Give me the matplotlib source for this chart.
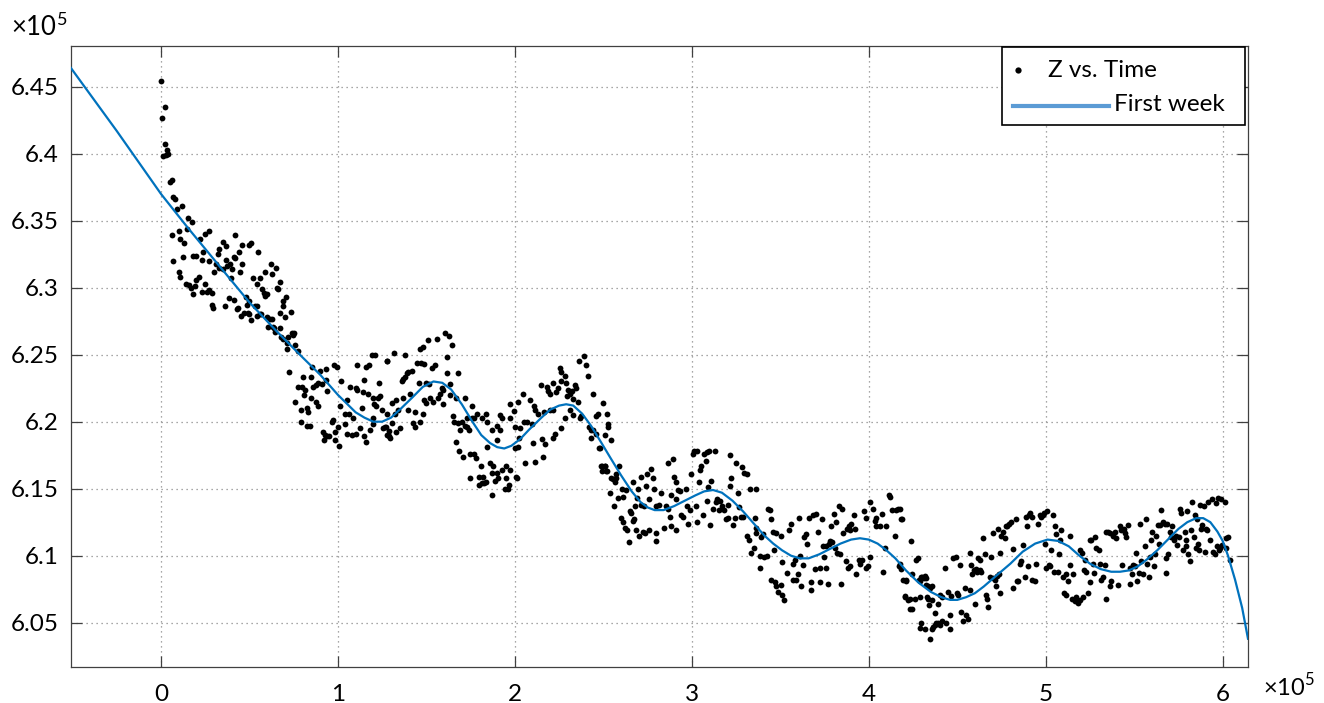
import numpy as np
import matplotlib
matplotlib.use('Agg')
import matplotlib.pyplot as plt
from matplotlib.patches import Rectangle
from matplotlib.lines import Line2D

# time in units of 1e5 s, Z in units of 1e5
# scatter, split in chunks along time
z_start = [(0.00, 6.454), (0.02, 6.435), (0.005, 6.427), (0.02, 6.407), (0.035, 6.403), (0.01, 6.398),
           (0.03, 6.399), (0.04, 6.400), (0.05, 6.379), (0.06, 6.380), (0.07, 6.368), (0.08, 6.366),
           (0.09, 6.359), (0.12, 6.361), (0.15, 6.352), (0.175, 6.349), (0.145, 6.344), (0.06, 6.339),
           (0.10, 6.342), (0.11, 6.336), (0.13, 6.333), (0.22, 6.336), (0.25, 6.340), (0.27, 6.342),
           (0.07, 6.320), (0.125, 6.323), (0.18, 6.324), (0.20, 6.324), (0.24, 6.327), (0.23, 6.321),
           (0.27, 6.320), (0.10, 6.312), (0.11, 6.308), (0.14, 6.303), (0.16, 6.302), (0.17, 6.300),
           (0.18, 6.295), (0.19, 6.301), (0.20, 6.306), (0.215, 6.308), (0.23, 6.297), (0.25, 6.303),
           (0.26, 6.297), (0.27, 6.298), (0.29, 6.296), (0.29, 6.287), (0.295, 6.285), (0.30, 6.312),
           (0.31, 6.318), (0.32, 6.325), (0.33, 6.329), (0.35, 6.334), (0.37, 6.331), (0.33, 6.315),
           (0.35, 6.314), (0.36, 6.286), (0.37, 6.321), (0.39, 6.318), (0.375, 6.316), (0.40, 6.314),
           (0.395, 6.307), (0.385, 6.292), (0.41, 6.291), (0.41, 6.323), (0.42, 6.322), (0.42, 6.339),
           (0.44, 6.327), (0.46, 6.332), (0.445, 6.312), (0.46, 6.318), (0.43, 6.284), (0.435, 6.285),
           (0.455, 6.279), (0.47, 6.281), (0.48, 6.293), (0.50, 6.290), (0.485, 6.287), (0.49, 6.281),
           (0.50, 6.280), (0.51, 6.276), (0.50, 6.332), (0.51, 6.333), (0.52, 6.307), (0.56, 6.307),
           (0.54, 6.286), (0.545, 6.279), (0.56, 6.280), (0.55, 6.327), (0.54, 6.303), (0.57, 6.299),
           (0.58, 6.296), (0.59, 6.294), (0.60, 6.295), (0.59, 6.312), (0.60, 6.278), (0.605, 6.271),
           (0.63, 6.277), (0.62, 6.318), (0.63, 6.310), (0.64, 6.270), (0.65, 6.315), (0.655, 6.300),
           (0.66, 6.299), (0.67, 6.304), (0.67, 6.270), (0.69, 6.290), (0.705, 6.293), (0.69, 6.286),
           (0.70, 6.278), (0.67, 6.281), (0.71, 6.254), (0.72, 6.263), (0.745, 6.265), (0.75, 6.266),
           (0.735, 6.282), (0.76, 6.257), (0.775, 6.253), (0.69, 6.262), (0.565, 6.280), (0.53, 6.286),
           (0.615, 6.277), (0.635, 6.271), (0.645, 6.267), (0.68, 6.263), (0.71, 6.259), (0.74, 6.266),
           (0.725, 6.237)]

z_day1 = [(0.855, 6.241), (0.90, 6.238), (0.93, 6.239), (0.98, 6.242), (0.995, 6.241), (0.80, 6.233),
          (0.775, 6.226), (0.795, 6.226), (0.815, 6.224), (0.76, 6.215), (0.81, 6.220), (0.85, 6.218),
          (0.875, 6.215), (0.89, 6.212), (0.86, 6.226), (0.875, 6.227), (0.89, 6.229), (0.91, 6.228),
          (0.93, 6.231), (0.94, 6.223), (0.79, 6.209), (0.825, 6.210), (0.83, 6.207), (0.79, 6.200),
          (0.825, 6.197), (0.84, 6.197), (0.85, 6.233), (0.915, 6.192), (0.925, 6.190), (0.94, 6.189),
          (0.95, 6.189), (0.92, 6.186), (0.965, 6.200), (0.97, 6.201), (0.985, 6.192), (1.0, 6.196),
          (0.985, 6.186), (1.005, 6.182), (1.01, 6.212), (1.02, 6.230), (1.05, 6.216), (1.07, 6.226),
          (1.10, 6.225), (1.11, 6.224), (1.04, 6.206), (1.06, 6.206), (1.085, 6.203), (1.04, 6.198),
          (1.05, 6.191), (1.08, 6.190), (1.10, 6.191), (1.125, 6.195), (1.15, 6.189), (1.16, 6.185),
          (1.11, 6.242), (1.16, 6.241), (1.175, 6.242), (1.15, 6.231), (1.14, 6.222), (1.17, 6.221),
          (1.20, 6.218), (1.23, 6.229), (1.225, 6.218), (1.235, 6.219), (1.135, 6.210), (1.205, 6.213),
          (1.215, 6.212), (1.18, 6.194), (1.20, 6.198), (1.255, 6.195), (1.27, 6.196), (1.29, 6.193),
          (1.305, 6.199), (1.33, 6.192), (1.275, 6.190), (1.29, 6.189), (1.19, 6.250), (1.21, 6.250),
          (1.275, 6.245), (1.315, 6.251), (1.25, 6.209), (1.275, 6.206), (1.305, 6.214), (1.33, 6.216),
          (1.32, 6.206), (1.20, 6.203), (1.28, 6.245), (1.34, 6.209), (1.35, 6.195), (1.295, 6.188),
          (1.265, 6.196)]

z_day2 = [(1.605, 6.266), (1.63, 6.264), (1.645, 6.257), (1.56, 6.262), (1.51, 6.261), (1.48, 6.256),
          (1.465, 6.254), (1.38, 6.250), (1.445, 6.244), (1.47, 6.244), (1.485, 6.243), (1.55, 6.242),
          (1.53, 6.240), (1.615, 6.248), (1.395, 6.237), (1.42, 6.238), (1.39, 6.236), (1.37, 6.232),
          (1.36, 6.230), (1.38, 6.233), (1.46, 6.229), (1.50, 6.229), (1.515, 6.228), (1.615, 6.236),
          (1.68, 6.236), (1.635, 6.228), (1.59, 6.225), (1.595, 6.224), (1.575, 6.221), (1.37, 6.218),
          (1.41, 6.221), (1.52, 6.218), (1.54, 6.215), (1.565, 6.218), (1.485, 6.216), (1.50, 6.214),
          (1.595, 6.213), (1.635, 6.220), (1.67, 6.218), (1.72, 6.218), (1.395, 6.209), (1.435, 6.207),
          (1.48, 6.206), (1.425, 6.199), (1.435, 6.196), (1.465, 6.200), (1.65, 6.204), (1.655, 6.200),
          (1.68, 6.199), (1.70, 6.200), (1.73, 6.203), (1.72, 6.197), (1.69, 6.194), (1.76, 6.203),
          (1.73, 6.196), (1.74, 6.194), (1.77, 6.203), (1.785, 6.206), (1.76, 6.212), (1.665, 6.185),
          (1.685, 6.178), (1.705, 6.174), (1.745, 6.176), (1.77, 6.176), (1.78, 6.173), (1.81, 6.167),
          (1.745, 6.158), (1.795, 6.159), (1.82, 6.159), (1.815, 6.154), (1.795, 6.153), (1.825, 6.154),
          (1.835, 6.155), (1.86, 6.169), (1.875, 6.167), (1.87, 6.162), (1.885, 6.156), (1.905, 6.158),
          (1.90, 6.162), (1.87, 6.145), (1.815, 6.203), (1.835, 6.206), (1.84, 6.200), (1.84, 6.181),
          (1.87, 6.194), (1.90, 6.186), (1.915, 6.205), (1.925, 6.203), (1.90, 6.197), (1.915, 6.194),
          (1.93, 6.164), (1.95, 6.158), (1.945, 6.150), (1.96, 6.150), (1.965, 6.153), (1.95, 6.167),
          (1.97, 6.164), (1.97, 6.203), (1.975, 6.213), (1.995, 6.208), (2.0, 6.196), (2.02, 6.215),
          (2.045, 6.221), (2.0, 6.180), (2.02, 6.181), (2.025, 6.188), (2.03, 6.195), (2.05, 6.200),
          (2.07, 6.200), (2.009, 6.159), (2.013, 6.158), (2.056, 6.169), (2.088, 6.216), (2.107, 6.212),
          (2.113, 6.209), (2.132, 6.206), (2.094, 6.198), (2.103, 6.184), (2.113, 6.170), (2.160, 6.174),
          (2.156, 6.187), (2.169, 6.183), (2.150, 6.227), (2.179, 6.226), (2.188, 6.223), (2.198, 6.221),
          (2.213, 6.229), (2.231, 6.222), (2.254, 6.240), (2.263, 6.237), (2.263, 6.230), (2.245, 6.225),
          (2.282, 6.234), (2.288, 6.229), (2.301, 6.224), (2.310, 6.221), (2.295, 6.219), (2.320, 6.223),
          (2.329, 6.217), (2.339, 6.227), (2.348, 6.225), (2.363, 6.245), (2.390, 6.249), (2.401, 6.242),
          (2.414, 6.234), (2.358, 6.215), (2.376, 6.204), (2.310, 6.209), (2.282, 6.203), (2.263, 6.195),
          (2.226, 6.191), (2.213, 6.188), (2.198, 6.209), (2.164, 6.207), (2.213, 6.209), (2.329, 6.205),
          (2.367, 6.203), (2.442, 6.221), (2.457, 6.204), (2.471, 6.206), (2.420, 6.196), (2.433, 6.194),
          (2.442, 6.194), (2.461, 6.191), (2.476, 6.180), (2.495, 6.167), (2.508, 6.167), (2.518, 6.163),
          (2.527, 6.196), (2.433, 6.188)]

z_day3 = [(2.499, 6.214), (2.521, 6.206), (2.527, 6.198), (2.508, 6.190), (2.546, 6.186), (2.480, 6.180),
          (2.489, 6.167), (2.508, 6.167), (2.495, 6.163), (2.514, 6.163), (2.589, 6.167), (2.574, 6.161),
          (2.546, 6.158), (2.555, 6.157), (2.565, 6.155), (2.570, 6.158), (2.536, 6.147), (2.584, 6.143),
          (2.559, 6.137), (2.608, 6.150), (2.627, 6.149), (2.612, 6.144), (2.597, 6.128), (2.612, 6.125),
          (2.621, 6.121), (2.631, 6.119), (2.646, 6.110), (2.650, 6.133), (2.659, 6.132), (2.672, 6.127),
          (2.665, 6.126), (2.665, 6.155), (2.678, 6.137), (2.691, 6.143), (2.683, 6.119), (2.702, 6.115),
          (2.725, 6.118), (2.734, 6.117), (2.759, 6.119), (2.796, 6.117), (2.796, 6.111), (2.697, 6.150),
          (2.710, 6.159), (2.715, 6.138), (2.729, 6.137), (2.740, 6.152), (2.747, 6.161), (2.772, 6.165),
          (2.778, 6.158), (2.759, 6.142), (2.785, 6.150), (2.800, 6.137), (2.815, 6.138), (2.823, 6.147),
          (2.842, 6.121), (2.853, 6.137), (2.866, 6.169), (2.866, 6.135), (2.875, 6.129), (2.891, 6.172),
          (2.885, 6.145), (2.898, 6.159), (2.909, 6.155), (2.923, 6.149), (2.913, 6.142), (2.885, 6.122),
          (2.909, 6.119), (2.932, 6.148), (2.941, 6.130), (2.951, 6.129), (2.966, 6.150), (2.973, 6.137),
          (2.979, 6.124), (2.992, 6.134), (2.998, 6.161), (3.004, 6.176), (3.011, 6.178), (3.030, 6.178),
          (3.045, 6.164), (3.054, 6.167), (3.068, 6.176), (3.079, 6.171), (3.083, 6.177), (3.096, 6.178),
          (3.130, 6.178), (3.041, 6.155), (3.026, 6.137), (3.030, 6.125), (3.064, 6.130), (3.086, 6.141),
          (3.092, 6.151), (3.101, 6.123), (3.111, 6.156), (3.120, 6.135), (3.135, 6.140), (3.143, 6.142),
          (3.154, 6.134), (3.162, 6.141), (3.173, 6.137), (3.181, 6.134), (3.192, 6.127), (3.205, 6.128),
          (3.205, 6.138), (3.214, 6.175), (3.224, 6.158), (3.218, 6.152), (3.233, 6.123), (3.243, 6.128),
          (3.248, 6.169), (3.262, 6.147), (3.267, 6.136), (3.280, 6.129), (3.290, 6.129), (3.286, 6.166),
          (3.294, 6.162), (3.309, 6.161), (3.309, 6.115), (3.324, 6.112), (3.331, 6.150), (3.337, 6.102),
          (3.350, 6.106), (3.365, 6.150), (3.356, 6.128), (3.361, 6.121), (3.365, 6.117), (3.384, 6.100),
          (3.384, 6.091), (3.393, 6.114), (3.403, 6.116), (3.407, 6.099), (3.422, 6.100), (3.431, 6.135),
          (3.444, 6.134), (3.450, 6.127), (3.459, 6.118), (3.463, 6.104), (3.474, 6.117), (3.450, 6.082),
          (3.469, 6.080), (3.478, 6.077), (3.488, 6.073), (3.506, 6.078), (3.512, 6.071), (3.506, 6.115),
          (3.512, 6.095), (3.521, 6.067), (3.538, 6.087)]

z_day4 = [(3.550, 6.119), (3.563, 6.124), (3.572, 6.094), (3.582, 6.097), (3.572, 6.082), (3.591, 6.082),
          (3.600, 6.086), (3.606, 6.128), (3.610, 6.100), (3.619, 6.077), (3.629, 6.093), (3.633, 6.114),
          (3.644, 6.116), (3.651, 6.109), (3.663, 6.128), (3.672, 6.074), (3.676, 6.080), (3.685, 6.130),
          (3.700, 6.131), (3.695, 6.090), (3.714, 6.118), (3.723, 6.080), (3.727, 6.091), (3.738, 6.127),
          (3.742, 6.107), (3.746, 6.099), (3.757, 6.091), (3.761, 6.107), (3.770, 6.079), (3.776, 6.109),
          (3.779, 6.111), (3.789, 6.122), (3.794, 6.110), (3.802, 6.131), (3.808, 6.106), (3.817, 6.125),
          (3.821, 6.102), (3.832, 6.137), (3.840, 6.101), (3.845, 6.079), (3.851, 6.135), (3.855, 6.117),
          (3.870, 6.096), (3.877, 6.120), (3.883, 6.091), (3.889, 6.122), (3.892, 6.119), (3.896, 6.092),
          (3.902, 6.124), (3.915, 6.130), (3.921, 6.120), (3.930, 6.086), (3.945, 6.097), (3.953, 6.094),
          (3.964, 6.097), (3.972, 6.133), (3.983, 6.128), (3.987, 6.091), (3.996, 6.092), (4.005, 6.140),
          (4.009, 6.099), (4.024, 6.135), (4.034, 6.126), (4.039, 6.122), (4.043, 6.128), (4.062, 6.122),
          (4.077, 6.131), (4.081, 6.088), (4.090, 6.106), (4.100, 6.122), (4.115, 6.145), (4.122, 6.144),
          (4.133, 6.134), (4.147, 6.115), (4.156, 6.134), (4.166, 6.135), (4.171, 6.092), (4.184, 6.127),
          (4.184, 6.090), (4.194, 6.082), (4.209, 6.081), (4.213, 6.082), (4.203, 6.069), (4.222, 6.067),
          (4.231, 6.060), (4.241, 6.111), (4.246, 6.086), (4.260, 6.068), (4.269, 6.097), (4.278, 6.098),
          (4.292, 6.081), (4.303, 6.084), (4.316, 6.085), (4.326, 6.078), (4.335, 6.068), (4.341, 6.063),
          (4.175, 6.135), (4.190, 6.127), (4.175, 6.094), (4.203, 6.070), (4.231, 6.068), (4.247, 6.060),
          (4.288, 6.069), (4.288, 6.046), (4.297, 6.050), (4.316, 6.045), (4.284, 6.082), (4.297, 6.084),
          (4.311, 6.083), (4.322, 6.083)]

z_day5 = [(4.335, 6.077), (4.348, 6.076), (4.360, 6.077), (4.344, 6.038), (4.360, 6.045), (4.363, 6.047),
          (4.373, 6.048), (4.382, 6.050), (4.392, 6.050), (4.401, 6.048), (4.416, 6.051), (4.435, 6.050),
          (4.457, 6.045), (4.329, 6.069), (4.360, 6.067), (4.373, 6.057), (4.392, 6.064), (4.401, 6.071),
          (4.416, 6.069), (4.429, 6.091), (4.448, 6.073), (4.461, 6.056), (4.467, 6.070), (4.476, 6.098),
          (4.491, 6.099), (4.499, 6.072), (4.505, 6.071), (4.514, 6.093), (4.523, 6.058), (4.533, 6.051),
          (4.542, 6.076), (4.552, 6.056), (4.561, 6.053), (4.570, 6.102), (4.570, 6.074), (4.580, 6.093),
          (4.586, 6.086), (4.593, 6.089), (4.599, 6.064), (4.604, 6.090), (4.612, 6.088), (4.618, 6.098),
          (4.627, 6.097), (4.627, 6.089), (4.636, 6.088), (4.646, 6.113), (4.655, 6.101), (4.661, 6.071),
          (4.668, 6.068), (4.674, 6.062), (4.683, 6.084), (4.693, 6.099), (4.702, 6.083), (4.712, 6.082),
          (4.721, 6.077), (4.725, 6.085), (4.736, 6.086), (4.740, 6.102), (4.744, 6.072), (4.702, 6.117),
          (4.731, 6.120), (4.749, 6.115), (4.759, 6.118), (4.768, 6.113), (4.774, 6.122), (4.781, 6.122),
          (4.793, 6.124), (4.806, 6.125), (4.815, 6.105), (4.834, 6.127), (4.815, 6.076), (4.838, 6.081),
          (4.844, 6.081), (4.853, 6.094), (4.862, 6.096), (4.872, 6.108), (4.881, 6.084), (4.891, 6.129),
          (4.906, 6.130), (4.913, 6.132), (4.925, 6.129), (4.894, 6.122), (4.900, 6.092), (4.925, 6.082),
          (4.938, 6.081), (4.947, 6.094), (4.957, 6.124), (4.966, 6.130), (4.975, 6.129), (4.985, 6.130),
          (4.989, 6.132), (4.994, 6.109), (5.000, 6.091), (5.007, 6.133), (5.019, 6.093), (5.026, 6.092),
          (5.032, 6.104), (5.041, 6.130), (5.045, 6.088), (5.051, 6.122), (5.060, 6.116), (5.070, 6.088),
          (5.075, 6.101), (5.083, 6.112), (5.088, 6.119), (5.098, 6.084), (5.102, 6.072), (5.113, 6.086),
          (5.117, 6.071), (5.126, 6.081), (5.135, 6.115), (5.139, 6.093), (5.151, 6.068), (5.154, 6.086),
          (5.164, 6.066), (5.173, 6.069), (5.183, 6.065), (5.192, 6.067), (5.196, 6.104), (5.207, 6.102),
          (5.211, 6.069), (5.215, 6.089), (5.220, 6.097), (5.230, 6.088)]

z_day6 = [(5.239, 6.072), (5.248, 6.080), (5.252, 6.112), (5.258, 6.112), (5.267, 6.094), (5.271, 6.087),
          (5.277, 6.114), (5.286, 6.106), (5.301, 6.104), (5.305, 6.094), (5.314, 6.082), (5.324, 6.084),
          (5.333, 6.093), (5.339, 6.068), (5.343, 6.118), (5.352, 6.118), (5.361, 6.077), (5.365, 6.117),
          (5.371, 6.081), (5.380, 6.115), (5.390, 6.118), (5.399, 6.113), (5.409, 6.078), (5.418, 6.122),
          (5.427, 6.119), (5.433, 6.093), (5.441, 6.120), (5.446, 6.117), (5.456, 6.114), (5.465, 6.123),
          (5.474, 6.079), (5.478, 6.091), (5.489, 6.086), (5.493, 6.093), (5.503, 6.092), (5.512, 6.102),
          (5.516, 6.081), (5.527, 6.087), (5.531, 6.124), (5.540, 6.096), (5.550, 6.086), (5.559, 6.107),
          (5.565, 6.127), (5.572, 6.094), (5.584, 6.084), (5.587, 6.099), (5.597, 6.112), (5.602, 6.118),
          (5.610, 6.092), (5.616, 6.101), (5.625, 6.115), (5.635, 6.123), (5.640, 6.109), (5.644, 6.123),
          (5.653, 6.134), (5.663, 6.125), (5.672, 6.124), (5.678, 6.087), (5.682, 6.098), (5.685, 6.124),
          (5.691, 6.101), (5.700, 6.118), (5.710, 6.114), (5.715, 6.122), (5.723, 6.112), (5.734, 6.115),
          (5.742, 6.108), (5.753, 6.114), (5.757, 6.135), (5.766, 6.132), (5.776, 6.104), (5.785, 6.118),
          (5.791, 6.107), (5.795, 6.112), (5.798, 6.133), (5.804, 6.101), (5.813, 6.096), (5.823, 6.119),
          (5.828, 6.140), (5.836, 6.114), (5.842, 6.130), (5.847, 6.106), (5.855, 6.127), (5.861, 6.109),
          (5.866, 6.104), (5.874, 6.138), (5.879, 6.120), (5.885, 6.123), (5.893, 6.137), (5.898, 6.103),
          (5.908, 6.120), (5.911, 6.119), (5.917, 6.140), (5.926, 6.112), (5.941, 6.142), (5.945, 6.103),
          (5.955, 6.101), (5.964, 6.139), (5.968, 6.107), (5.973, 6.143), (5.979, 6.104), (5.987, 6.106),
          (5.992, 6.142), (5.998, 6.108), (6.011, 6.140), (6.017, 6.113), (6.021, 6.106), (6.030, 6.114),
          (6.039, 6.097)]

# fitted curve ("First week")
fit_t = [-0.509, -0.25, 0.0, 0.15, 0.35, 0.5, 0.65, 0.8, 0.9, 1.0, 1.1, 1.15, 1.2, 1.25, 1.3, 1.35,
         1.42, 1.48, 1.54, 1.59, 1.64, 1.7, 1.76, 1.81, 1.86, 1.9, 1.94, 1.98, 2.03, 2.08, 2.15, 2.2,
         2.25, 2.29, 2.33, 2.38, 2.43, 2.49, 2.54, 2.6, 2.66, 2.71, 2.75, 2.79, 2.84, 2.9, 2.96, 3.02,
         3.07, 3.12, 3.17, 3.23, 3.29, 3.35, 3.41, 3.46, 3.51, 3.56, 3.61, 3.66, 3.72, 3.78, 3.84, 3.9,
         3.95, 4.0, 4.05, 4.1, 4.15, 4.21, 4.28, 4.35, 4.41, 4.46, 4.5, 4.55, 4.6, 4.65, 4.72, 4.8, 4.87,
         4.94, 5.01, 5.07, 5.13, 5.19, 5.25, 5.31, 5.37, 5.42, 5.47, 5.52, 5.57, 5.63, 5.69, 5.75, 5.8,
         5.85, 5.89, 5.93, 5.97, 6.0, 6.03, 6.07, 6.11, 6.143]
fit_z = [6.464, 6.417, 6.370, 6.345, 6.313, 6.289, 6.268, 6.248, 6.235, 6.220, 6.207, 6.203, 6.200,
         6.200, 6.203, 6.209, 6.218, 6.226, 6.230, 6.229, 6.224, 6.213, 6.200, 6.190, 6.184, 6.181,
         6.180, 6.182, 6.187, 6.194, 6.203, 6.209, 6.212, 6.213, 6.212, 6.206, 6.197, 6.184, 6.173,
         6.160, 6.148, 6.140, 6.136, 6.134, 6.134, 6.137, 6.141, 6.145, 6.148, 6.149, 6.147, 6.141,
         6.133, 6.124, 6.115, 6.109, 6.104, 6.100, 6.098, 6.098, 6.101, 6.105, 6.109, 6.112, 6.113,
         6.112, 6.109, 6.104, 6.098, 6.089, 6.080, 6.073, 6.069, 6.067, 6.067, 6.069, 6.072, 6.077,
         6.085, 6.094, 6.103, 6.109, 6.112, 6.111, 6.107, 6.100, 6.094, 6.090, 6.088, 6.088, 6.089,
         6.092, 6.097, 6.104, 6.112, 6.120, 6.125, 6.128, 6.128, 6.125, 6.118, 6.111, 6.100, 6.082,
         6.061, 6.038]

x_ticks = [0, 1, 2, 3, 4, 5, 6]
y_ticks = [6.05, 6.1, 6.15, 6.2, 6.25, 6.3, 6.35, 6.4, 6.45]

plt.rcParams['font.family'] = ['Lato', 'DejaVu Sans']
plt.rcParams['mathtext.fontset'] = 'custom'
plt.rcParams['mathtext.rm'] = 'Lato'

pts = np.array(z_start + z_day1 + z_day2 + z_day3 + z_day4 + z_day5 + z_day6)

fig = plt.figure(figsize=(13.24, 7.03), dpi=100)
ax = fig.add_axes([0.0536, 0.0512, 0.8890, 0.8834])

ax.plot(pts[:, 0], pts[:, 1], 'o', color='black', ms=4.2, mew=0, zorder=3)
ax.plot(fit_t, fit_z, '-', color='#0072BD', lw=1.6, zorder=4)

ax.set_xlim(-0.5086, 6.143)
ax.set_ylim(6.0169, 6.4804)
ax.set_xticks(x_ticks)
ax.set_yticks(y_ticks)
ax.set_xticklabels([str(v) for v in x_ticks])
ax.set_yticklabels(['%g' % v for v in y_ticks])

ax.grid(True, linestyle=(0, (1, 3)), color='#8a8a8a', lw=0.9)
ax.set_axisbelow(True)
ax.tick_params(direction='in', length=8, width=0.9, color='#404040',
               top=True, right=True, labelsize=17.5, labelcolor='black')
ax.tick_params(axis='x', pad=12)
ax.tick_params(axis='y', pad=9)
for s in ax.spines.values():
    s.set_color('#404040')
    s.set_linewidth(0.9)

# exponent labels
fig.text(0.008, 0.962, r'$\times10^5$', fontsize=18.5, va='center', ha='left')
fig.text(0.993, 0.004, r'$\times10^5$', fontsize=17, va='bottom', ha='right')

# legend box drawn by hand (MATLAB style)
ax.add_patch(Rectangle((0.791, 0.873), 0.2065, 0.125, transform=ax.transAxes,
                       facecolor='white', edgecolor='black', lw=1.2, zorder=10))
ax.add_line(Line2D([0.8046], [0.961], transform=ax.transAxes, marker='o', ms=4.5,
                   color='black', mew=0, zorder=11))
ax.add_line(Line2D([0.8003, 0.8819], [0.903, 0.903], transform=ax.transAxes,
                   color='#5B9BD5', lw=3, zorder=11))
ax.text(0.830, 0.961, 'Z vs. Time', transform=ax.transAxes, fontsize=17.5,
        va='center', ha='left', zorder=12)
ax.text(0.8865, 0.905, 'First week', transform=ax.transAxes, fontsize=17.5,
        va='center', ha='left', zorder=12)

fig.savefig('out.png', dpi=100)
